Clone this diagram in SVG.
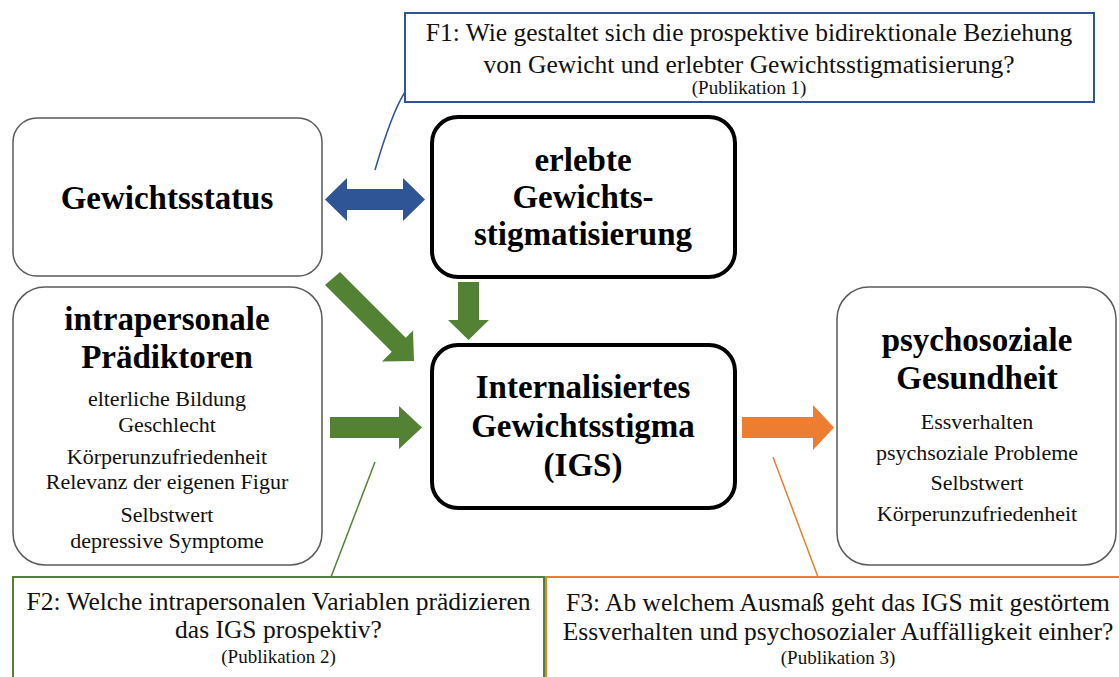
<svg xmlns="http://www.w3.org/2000/svg" width="1119" height="677" viewBox="0 0 1119 677">
  <style>
    .bg { fill: #ffffff; }
    .soft { fill: #ffffff; stroke: #5a5a5a; stroke-width: 1.5; }
    .strong { fill: #ffffff; stroke: #000000; stroke-width: 4; }
    .q1 { fill: #ffffff; stroke: #2F5597; stroke-width: 2; }
    .q2 { fill: #ffffff; stroke: #548235; stroke-width: 2; }
    .q3 { fill: #ffffff; stroke: #ED7D31; stroke-width: 2; }
    .title { font-family: "Liberation Serif", "Times New Roman", serif; font-weight: bold; font-size: 33px; fill: #000000; text-anchor: middle; }
    .item { font-family: "Liberation Serif", "Times New Roman", serif; font-size: 22px; fill: #111111; text-anchor: middle; }
    .ask { font-family: "Liberation Serif", "Times New Roman", serif; font-size: 25.5px; fill: #111111; text-anchor: middle; }
    .pub { font-family: "Liberation Serif", "Times New Roman", serif; font-size: 19px; fill: #111111; text-anchor: middle; }
    .blue { fill: #2F5597; }
    .green { fill: #548235; }
    .orange { fill: #ED7D31; }
    .lead { fill: none; stroke-width: 1.5; }
  </style>

  <rect class="bg" x="0" y="0" width="1119" height="677"/>

  <!-- Research question 1 -->
  <g id="frage1">
    <rect class="q1" x="405" y="13" width="689" height="89"/>
    <text class="ask" x="749" y="41">F1: Wie gestaltet sich die prospektive bidirektionale Beziehung</text>
    <text class="ask" x="749" y="73">von Gewicht und erlebter Gewichtsstigmatisierung?</text>
    <text class="pub" x="749" y="94">(Publikation 1)</text>
  </g>

  <!-- Weight status -->
  <g id="gewichtsstatus">
    <rect class="soft" x="13" y="118" width="309" height="158" rx="24" ry="24"/>
    <text class="title" x="167" y="209">Gewichtsstatus</text>
  </g>

  <!-- Experienced weight stigmatization -->
  <g id="erlebte-stigmatisierung">
    <rect class="strong" x="432" y="117" width="303" height="160" rx="26" ry="26"/>
    <text class="title" x="583" y="171">erlebte</text>
    <text class="title" x="583" y="208">Gewichts-</text>
    <text class="title" x="583" y="245">stigmatisierung</text>
  </g>

  <!-- Intrapersonal predictors -->
  <g id="praediktoren">
    <rect class="soft" x="13" y="287" width="309" height="278" rx="32" ry="32"/>
    <text class="title" x="167" y="330">intrapersonale</text>
    <text class="title" x="167" y="368">Prädiktoren</text>
    <text class="item" x="167" y="406">elterliche Bildung</text>
    <text class="item" x="167" y="432">Geschlecht</text>
    <text class="item" x="167" y="464">Körperunzufriedenheit</text>
    <text class="item" x="167" y="489">Relevanz der eigenen Figur</text>
    <text class="item" x="167" y="522">Selbstwert</text>
    <text class="item" x="167" y="548">depressive Symptome</text>
  </g>

  <!-- Internalized weight stigma -->
  <g id="igs">
    <rect class="strong" x="432" y="345" width="303" height="163" rx="26" ry="26"/>
    <text class="title" x="583" y="398">Internalisiertes</text>
    <text class="title" x="583" y="437">Gewichtsstigma</text>
    <text class="title" x="583" y="476">(IGS)</text>
  </g>

  <!-- Psychosocial health -->
  <g id="psychosoziale-gesundheit">
    <rect class="soft" x="837" y="287" width="279" height="278" rx="32" ry="32"/>
    <text class="title" x="977" y="351">psychosoziale</text>
    <text class="title" x="977" y="389">Gesundheit</text>
    <text class="item" x="977" y="429">Essverhalten</text>
    <text class="item" x="977" y="460">psychsoziale Probleme</text>
    <text class="item" x="977" y="490">Selbstwert</text>
    <text class="item" x="977" y="521">Körperunzufriedenheit</text>
  </g>

  <!-- Research question 2 -->
  <g id="frage2">
    <rect class="q2" x="13" y="577" width="531" height="130"/>
    <text class="ask" x="278.5" y="610">F2: Welche intrapersonalen Variablen prädizieren</text>
    <text class="ask" x="278.5" y="638">das IGS prospektiv?</text>
    <text class="pub" x="278.5" y="663">(Publikation 2)</text>
  </g>

  <!-- Research question 3 -->
  <g id="frage3">
    <rect class="q3" x="546" y="577" width="600" height="130"/>
    <text class="ask" x="838" y="611">F3: Ab welchem Ausmaß geht das IGS mit gestörtem</text>
    <text class="ask" x="838" y="640">Essverhalten und psychosozialer Auffälligkeit einher?</text>
    <text class="pub" x="838" y="664">(Publikation 3)</text>
  </g>

  <!-- Block arrows and leader lines -->
  <g id="connectors">
    <polygon class="blue" points="325,199.5 347,178 347,189 403,189 403,178 425,199.5 403,221 403,210 347,210 347,221"/>
    <polygon class="green" points="340,272 405.75,337.75 413,330.5 414,361 382,361.5 391.75,351.75 325,285"/>
    <polygon class="green" points="458,282 479,282 479,320 489,320 468.5,340 448,320 458,320"/>
    <polygon class="green" points="330,417 399,417 399,406 422,427.5 399,449 399,438 330,438"/>
    <polygon class="orange" points="742,417 813,417 813,405 834,427.5 813,450 813,438 742,438"/>
    <path class="lead" stroke="#2F5597" d="M375,170 Q392,112 405,92"/>
    <path class="lead" stroke="#548235" d="M375,462 L331,577"/>
    <path class="lead" stroke="#ED7D31" d="M773,457 L818,577"/>
  </g>
</svg>
